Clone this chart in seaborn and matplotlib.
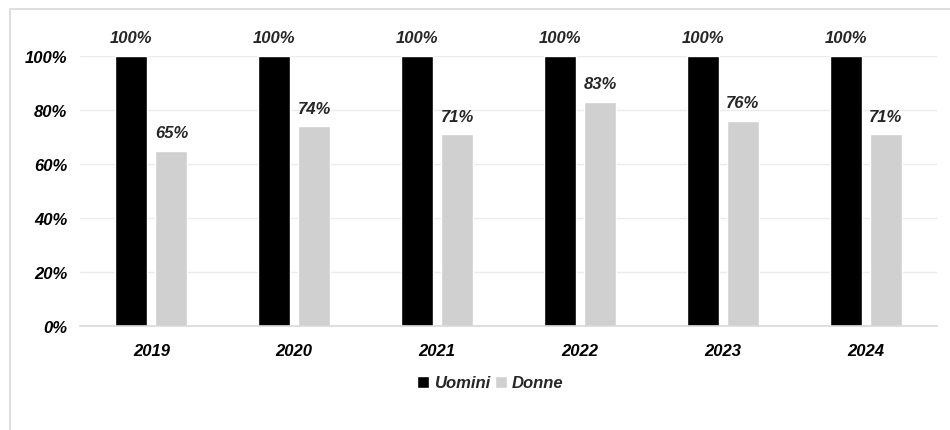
import matplotlib
matplotlib.use("Agg")
import matplotlib.pyplot as plt
import seaborn as sns
import pandas as pd
import numpy as np
from matplotlib.patches import Rectangle
from matplotlib.ticker import FixedLocator, PercentFormatter

years = ["2019", "2020", "2021", "2022", "2023", "2024"]
uomini = [100, 100, 100, 100, 100, 100]
donne = [65, 74, 71, 83, 76, 71]
series_names = ["Uomini", "Donne"]
colors = ["#000000", "#d0d0d0"]

df = pd.DataFrame({
    "Anno": years * 2,
    "Serie": [series_names[0]] * len(years) + [series_names[1]] * len(years),
    "Valore": uomini + donne,
})

sns.set_theme(style="white")
plt.rcParams["font.family"] = ["Liberation Sans", "DejaVu Sans"]
FS = 12
font = dict(weight="bold", style="italic", size=FS)

fig = plt.figure(figsize=(9.5, 4.31), dpi=100)
fig.patch.set_facecolor("white")
fig.add_artist(Rectangle((10 / 950, -0.1), 1.2, 1 - 10 / 431 + 0.1, transform=fig.transFigure,
                         fill=False, edgecolor="#d9d9d9", linewidth=1.2))
ax = fig.add_axes([80 / 950, 1 - 327 / 431, (937 - 80) / 950, 270 / 431])

sns.barplot(data=df, x="Anno", y="Valore", hue="Serie", palette=colors,
            width=0.56, gap=0.2, ax=ax, legend=True, saturation=1)

ax.set_ylim(0, 100)
ax.set_xlim(-0.5, len(years) - 0.5)
ax.yaxis.set_major_locator(FixedLocator([0, 20, 40, 60, 80, 100]))
ax.yaxis.set_major_formatter(PercentFormatter(decimals=0))
ax.grid(axis="y", color="#ebebeb", linewidth=1)
ax.set_axisbelow(True)
for s in ["top", "right", "left"]:
    ax.spines[s].set_visible(False)
ax.spines["bottom"].set_color("#d9d9d9")
ax.spines["bottom"].set_linewidth(1.2)
ax.set_xlabel("")
ax.set_ylabel("")
ax.tick_params(axis="y", length=0, pad=9)
ax.tick_params(axis="x", which="major", length=0, pad=12)
ax.set_xticks(np.arange(-0.5, len(years) + 0.5, 1), minor=True)
ax.tick_params(axis="x", which="minor", length=5, color="#d9d9d9", width=1.2)
for lab in ax.get_xticklabels() + ax.get_yticklabels():
    lab.set_fontweight("bold")
    lab.set_fontstyle("italic")
    lab.set_fontsize(FS)
    lab.set_color("#000000")

for cont in ax.containers:
    for bar in cont:
        h = bar.get_height()
        ax.annotate(f"{h:.0f}%", (bar.get_x() + bar.get_width() / 2, h),
                    xytext=(0, 13), textcoords="offset points",
                    ha="center", va="center", annotation_clip=False, **font)

handles, labels = ax.get_legend_handles_labels()
ax.get_legend().remove()
fig.legend(handles, labels, loc="center", bbox_to_anchor=(0.516, 1 - 384 / 431),
           ncol=2, frameon=False, prop=dict(weight="bold", style="italic", size=FS),
           handlelength=0.7, handleheight=0.7, handletextpad=0.3, columnspacing=0.3)

fig.savefig("out.png", dpi=100)
